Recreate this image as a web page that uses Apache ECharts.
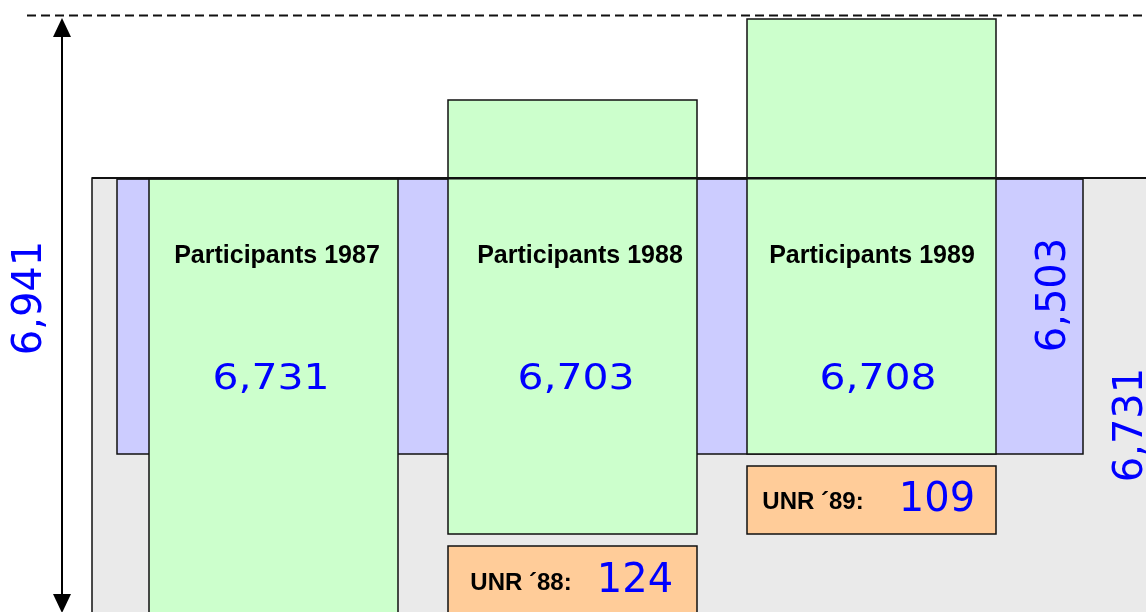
<!DOCTYPE html>
<html>
<head>
<meta charset="utf-8">
<script src="https://cdn.jsdelivr.net/npm/echarts@6/dist/echarts.min.js"></script>
<style>
  html, body { margin: 0; padding: 0; background: #ffffff; }
  #chart { width: 1146px; height: 612px; }
</style>
</head>
<body>
<div id="chart"></div>
<script>
  // --- values ---
  const years = ['1987', '1988', '1989']
  const participants = [6731, 6703, 6708]
  const unrYears = ['´88', '´89']
  const unrValues = [124, 109]
  const maxParticipants = 6941    // dashed line / arrow span
  const coreParticipants = 6503   // blue block
  const baseParticipants = 6731   // grey block

  // --- layout (axis units, the grid spans the whole 1146 x 612 canvas) ---
  const greyBox = [92, 178, 1200, 700]
  const blueBox = [117, 179, 1083, 454]
  const greenX = [[149, 398], [448, 697], [747, 996]]
  const greenY = [[179, 700], [100, 534], [19, 454]]
  const unrX = [[448, 697], [747, 996]]
  const unrY = [[546, 700], [466, 534]]
  const yearLabelY = 256
  const valueLabelY = 380
  const yearLabelX = [277, 580, 872]
  const valueLabelX = [271, 576, 878]
  const unrLabelX = [[521, 635], [813, 937]]
  const unrLabelY = [583, 502]
  const dashY = 15.5
  const arrowX = 62
  const arrowSpan = [18, 613]

  const fmt = v => v.toLocaleString('en-US')
  const BLUE_TEXT = '#0000ff'
  const NUM_FONT = '"DejaVu Sans", Verdana, sans-serif'
  const BOLD_FONT = 'bold 25px "Liberation Sans", Arial, sans-serif'

  // boxes in drawing order
  const boxes = [
    {value: greyBox, itemStyle: {color: '#eaeaea'}},
    {value: blueBox, itemStyle: {color: '#ccccff'}}
  ]
  years.forEach((y, i) => {
    boxes.push({value: [greenX[i][0], greenY[i][0], greenX[i][1], greenY[i][1]], itemStyle: {color: '#ccffcc'}})
  })
  unrYears.forEach((y, i) => {
    boxes.push({value: [unrX[i][0], unrY[i][0], unrX[i][1], unrY[i][1]], itemStyle: {color: '#ffcc99'}})
  })

  // texts
  const texts = []
  years.forEach((y, i) => {
    texts.push({x: yearLabelX[i], y: yearLabelY, text: 'Participants ' + y, font: BOLD_FONT, color: '#000'})
    texts.push({x: valueLabelX[i], y: valueLabelY, text: fmt(participants[i]), font: '35px ' + NUM_FONT, color: BLUE_TEXT, scaleX: 1.17})
  })
  unrYears.forEach((y, i) => {
    texts.push({x: unrLabelX[i][0], y: unrLabelY[i], text: 'UNR ' + y + ':', font: 'bold 24px "Liberation Sans", Arial, sans-serif', color: '#000'})
    texts.push({x: unrLabelX[i][1], y: unrLabelY[i] - 1, text: fmt(unrValues[i]), font: '40px ' + NUM_FONT, color: BLUE_TEXT})
  })
  texts.push({x: 31, y: 298, text: fmt(maxParticipants), font: '40px ' + NUM_FONT, color: BLUE_TEXT, rotate: 90})
  texts.push({x: 1055, y: 295, text: fmt(coreParticipants), font: '40px ' + NUM_FONT, color: BLUE_TEXT, rotate: 90})
  texts.push({x: 1132, y: 425, text: fmt(baseParticipants), font: '40px ' + NUM_FONT, color: BLUE_TEXT, rotate: 90})

  const chart = echarts.init(document.getElementById('chart'))
  chart.setOption({
    animation: false,
    backgroundColor: '#ffffff',
    grid: {left: 0, right: 0, top: 0, bottom: 0},
    xAxis: {type: 'value', min: 0, max: 1146, show: false},
    yAxis: {type: 'value', min: 0, max: 612, inverse: true, show: false},
    series: [
      {
        type: 'custom',
        clip: false,
        data: boxes,
        renderItem(params, api) {
          const p0 = api.coord([api.value(0), api.value(1)])
          const p1 = api.coord([api.value(2), api.value(3)])
          return {
            type: 'rect',
            shape: {x: p0[0], y: p0[1], width: p1[0] - p0[0], height: p1[1] - p0[1]},
            style: {fill: api.visual('color'), stroke: '#111', lineWidth: 1.5}
          }
        }
      },
      {
        // top edge of the grey / blue blocks, running over the green boxes
        type: 'custom',
        clip: false,
        data: [[greyBox[0], greyBox[1], 1146, 2], [blueBox[0], blueBox[1], blueBox[2], 1.2]],
        renderItem(params, api) {
          const p0 = api.coord([api.value(0), api.value(1)])
          const p1 = api.coord([api.value(2), api.value(1)])
          return {
            type: 'line',
            shape: {x1: p0[0], y1: p0[1], x2: p1[0], y2: p1[1]},
            style: {stroke: '#111', lineWidth: api.value(3)}
          }
        }
      },
      {
        // dashed max line and double arrow
        type: 'custom',
        clip: false,
        data: [[arrowX, arrowSpan[0], arrowSpan[1], dashY]],
        renderItem(params, api) {
          const top = api.coord([api.value(0), api.value(1)])
          const bot = api.coord([api.value(0), api.value(2)])
          const d0 = api.coord([27, api.value(3)])
          const d1 = api.coord([1146, api.value(3)])
          const h = 19, w = 9
          return {
            type: 'group',
            children: [
              {type: 'line', shape: {x1: d0[0], y1: d0[1], x2: d1[0], y2: d1[1]},
                style: {stroke: '#111', lineWidth: 2, lineDash: [9, 5]}},
              {type: 'line', shape: {x1: top[0], y1: top[1] + h, x2: bot[0], y2: bot[1] - h},
                style: {stroke: '#000', lineWidth: 2}},
              {type: 'polygon', shape: {points: [[top[0], top[1]], [top[0] - w, top[1] + h], [top[0] + w, top[1] + h]]},
                style: {fill: '#000'}},
              {type: 'polygon', shape: {points: [[bot[0], bot[1]], [bot[0] - w, bot[1] - h], [bot[0] + w, bot[1] - h]]},
                style: {fill: '#000'}}
            ]
          }
        }
      },
      {
        type: 'custom',
        clip: false,
        data: texts.map((t, i) => [t.x, t.y, i]),
        renderItem(params, api) {
          const t = texts[api.value(2)]
          const p = api.coord([api.value(0), api.value(1)])
          return {
            type: 'text',
            x: p[0],
            y: p[1],
            rotation: (t.rotate || 0) * Math.PI / 180,
            scaleX: t.scaleX || 1,
            style: {text: t.text, font: t.font, fill: t.color, align: 'center', verticalAlign: 'middle'}
          }
        }
      }
    ]
  })
</script>
</body>
</html>
